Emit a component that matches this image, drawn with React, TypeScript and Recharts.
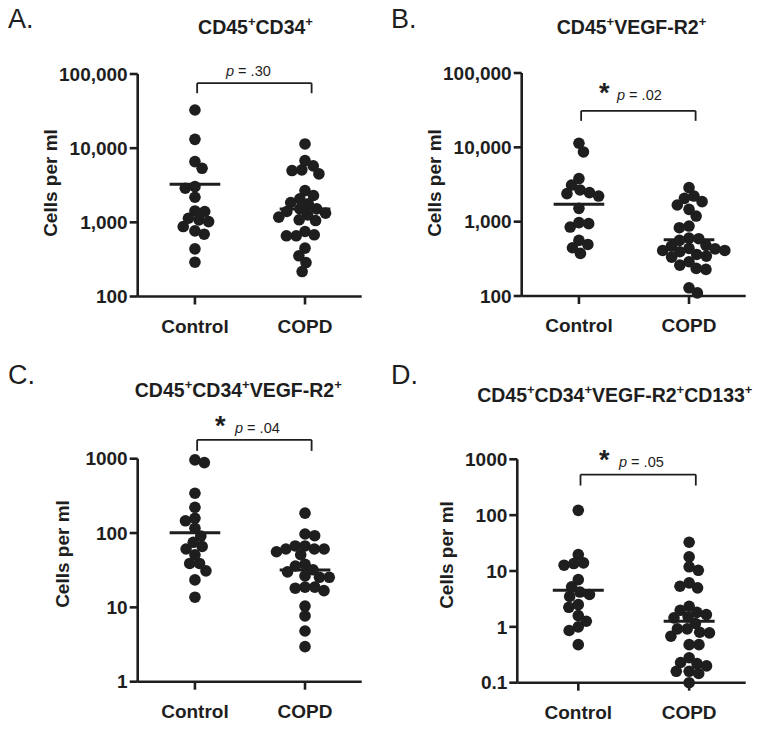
import { ScatterChart, Scatter, XAxis, YAxis, ReferenceLine } from 'recharts';

const FONT = "'Liberation Sans', Arial, Helvetica, sans-serif";
const INK = '#1e1e1e';

const groups = ['Control', 'COPD'];

// A. CD45+CD34+ (cells per ml)
const aControl = [32700, 13150, 6590, 5350, 3030, 2880, 2180, 1425, 1400, 1135, 1080, 1023, 877, 767, 692, 439, 290];
const aCopd = [11400, 6800, 5770, 5100, 4990, 4500, 2680, 2300, 2070, 1850, 1775, 1520, 1520, 1400, 1330, 1262, 1175, 1081, 1057, 752, 679, 658, 658, 449, 354, 287, 217];
const aMedians = [3260, 1507];

// B. CD45+VEGF-R2+
const bControl = [11350, 8670, 3800, 3110, 2670, 2460, 2380, 2210, 1510, 970, 940, 846, 560, 494, 446, 374];
const bCopd = [2870, 2210, 2060, 1860, 1675, 1465, 1190, 873, 830, 600, 590, 560, 480, 469, 437, 430, 410, 410, 394, 362, 344, 333, 289, 260, 235, 228, 129, 110];
const bMedians = [1710, 572];

// C. CD45+CD34+VEGF-R2+
const cControl = [963, 886, 343, 222, 158, 146, 116, 91, 75, 66, 61, 51, 39, 39, 31, 23.4, 13.7];
const cCopd = [185, 97, 92, 67, 67, 61, 61, 61, 56, 51, 38, 36, 32, 30, 26.5, 25.4, 25.4, 18.7, 18.7, 18.1, 16.8, 10.4, 7.66, 4.81, 2.96];
const cMedians = [101, 31.9];

// D. CD45+CD34+VEGF-R2+CD133+
const dControl = [122, 19.7, 14.0, 13.6, 12.7, 7.0, 5.2, 4.2, 3.8, 3.5, 2.5, 2.24, 1.59, 1.26, 1.0, 0.86, 0.48];
const dCopd = [32.7, 17.9, 11.9, 10.3, 6.14, 5.33, 4.99, 2.34, 1.98, 1.82, 1.66, 1.51, 1.45, 1.15, 0.92, 0.92, 0.8, 0.78, 0.68, 0.48, 0.48, 0.28, 0.23, 0.22, 0.2, 0.16, 0.16, 0.146, 0.1];
const dMedians = [4.5, 1.26];

const ticksAB = [100, 1000, 10000, 100000];
const ticksC = [1, 10, 100, 1000];
const ticksD = [0.1, 1, 10, 100, 1000];

const titles = [
  ['CD45', 'CD34'],
  ['CD45', 'VEGF-R2'],
  ['CD45', 'CD34', 'VEGF-R2'],
  ['CD45', 'CD34', 'VEGF-R2', 'CD133'],
];
const pValues = ['.30', '.02', '.04', '.05'];
const starred = [false, true, true, true];

const DOT_R = 5.8;

// simple beeswarm: spread close values sideways (dots may overlap a little, like Prism)
function swarm(values: number[], center: number, pxPerDecade: number, pxPerUnit: number) {
  const D = 9.8;
  const order = values.map((v, i) => ({ v, i })).sort((a, b) => b.v - a.v);
  const placed: { py: number; ox: number }[] = [];
  const out = values.map((v) => ({ x: center, y: v }));
  let flip = 1;
  for (const { v, i } of order) {
    const py = -Math.log10(v) * pxPerDecade;
    const cands = [0];
    for (const p of placed) {
      const dy = Math.abs(p.py - py);
      if (dy < D) {
        const h = Math.sqrt(D * D - dy * dy);
        cands.push(p.ox + h * flip, p.ox - h * flip);
      }
    }
    cands.sort((a, b) => Math.abs(a) - Math.abs(b));
    let best = 0;
    for (const c of cands) {
      if (placed.every((p) => (p.ox - c) ** 2 + (p.py - py) ** 2 >= D * D - 0.01)) {
        best = c;
        break;
      }
    }
    if (best !== 0) flip = -flip;
    placed.push({ py, ox: best });
    out[i] = { x: center + best / pxPerUnit, y: v };
  }
  return out;
}

interface PanelProps {
  left: number;
  top: number;
  width: number;
  height: number;
  margin: { top: number; right: number; bottom: number; left: number };
  yAxisWidth: number;
  xAxisHeight: number;
  xDomain: [number, number];
  ticks: number[];
  tickFmt: (v: number) => string;
  control: number[];
  copd: number[];
  medians: number[];
  bracket: [number, number];
}

const Dot = (props: any) => <circle cx={props.cx} cy={props.cy} r={DOT_R} fill={INK} />;

const tickStyle = { fill: INK, fontSize: 19, fontWeight: 700, fontFamily: FONT };
const lineStyle = { stroke: INK, strokeWidth: 2.6 };

const Panel = (p: PanelProps) => {
  const plotW = p.width - p.margin.left - p.margin.right - p.yAxisWidth;
  const plotH = p.height - p.margin.top - p.margin.bottom - p.xAxisHeight;
  const decades = Math.log10(p.ticks[p.ticks.length - 1]) - Math.log10(p.ticks[0]);
  const pxPerDecade = plotH / decades;
  const pxPerUnit = plotW / (p.xDomain[1] - p.xDomain[0]);
  const ctrlPts = swarm(p.control, 1, pxPerDecade, pxPerUnit);
  const copdPts = swarm(p.copd, 2, pxPerDecade, pxPerUnit);
  const [bTop, bFoot] = p.bracket;
  const bx1 = 1.02;
  const bx2 = 2.06;

  return (
    <div style={{ position: 'absolute', left: p.left, top: p.top }}>
      <ScatterChart width={p.width} height={p.height} margin={p.margin}>
        <XAxis
          type="number"
          dataKey="x"
          domain={p.xDomain}
          ticks={[1, 2]}
          tickFormatter={(v) => groups[Math.round(v) - 1]}
          height={p.xAxisHeight}
          tickSize={8}
          tickMargin={15}
          axisLine={lineStyle}
          tickLine={lineStyle}
          tick={tickStyle}
        />
        <YAxis
          type="number"
          dataKey="y"
          scale="log"
          domain={[p.ticks[0], p.ticks[p.ticks.length - 1]]}
          ticks={p.ticks}
          tickFormatter={p.tickFmt}
          width={p.yAxisWidth}
          tickSize={8}
          tickMargin={2}
          axisLine={lineStyle}
          tickLine={lineStyle}
          tick={tickStyle}
        />
        <Scatter data={ctrlPts} shape={Dot} isAnimationActive={false} />
        <Scatter data={copdPts} shape={Dot} isAnimationActive={false} />
        {p.medians.map((m, i) => (
          <ReferenceLine
            key={`med-${i}`}
            segment={[{ x: i + 1 - 0.23, y: m }, { x: i + 1 + 0.23, y: m }]}
            stroke={INK}
            strokeWidth={3}
            ifOverflow="visible"
          />
        ))}
        <ReferenceLine segment={[{ x: bx1, y: bTop }, { x: bx2, y: bTop }]} stroke={INK} strokeWidth={1.8} ifOverflow="visible" />
        <ReferenceLine segment={[{ x: bx1, y: bTop }, { x: bx1, y: bFoot }]} stroke={INK} strokeWidth={1.8} ifOverflow="visible" />
        <ReferenceLine segment={[{ x: bx2, y: bTop }, { x: bx2, y: bFoot }]} stroke={INK} strokeWidth={1.8} ifOverflow="visible" />
      </ScatterChart>
    </div>
  );
};

const Title = ({ x, y, parts }: { x: number; y: number; parts: string[] }) => (
  <text x={x} y={y} textAnchor="middle" fontSize={19.5} fontWeight={700} fill={INK} fontFamily={FONT}>
    {parts.map((s, i) => [
      <tspan key={`t${i}`} dy={i === 0 ? 0 : 8}>{s}</tspan>,
      <tspan key={`s${i}`} dy={-8} fontSize={13}>+</tspan>,
    ])}
  </text>
);

const YLabel = ({ x, y }: { x: number; y: number }) => (
  <text x={x} y={y} transform={`rotate(-90 ${x} ${y})`} textAnchor="middle" fontSize={19} fontWeight={700} fill={INK} fontFamily={FONT}>
    Cells per ml
  </text>
);

const Sig = ({ starX, pX, y, i }: { starX: number; pX: number; y: number; i: number }) => (
  <g fontFamily={FONT} fill={INK}>
    {starred[i] && (
      <text x={starX} y={y + 2} fontSize={27} fontWeight={700}>*</text>
    )}
    <text x={pX} y={y} fontSize={14.5}>
      <tspan fontStyle="italic">p</tspan> = {pValues[i]}
    </text>
  </g>
);

const commaFmt = (v: number) => v.toLocaleString('en-US');
const plainFmt = (v: number) => String(v);

export default function App() {
  return (
    <div style={{ position: 'absolute', left: 0, top: 0, width: 768, height: 729, background: '#fff', fontFamily: FONT }}>
      <Panel
        left={0} top={0} width={384} height={365}
        margin={{ top: 74, right: 22.3, bottom: 8.5, left: 0 }}
        yAxisWidth={137.7} xAxisHeight={60} xDomain={[0.48, 2.515]}
        ticks={ticksAB} tickFmt={commaFmt}
        control={aControl} copd={aCopd} medians={aMedians}
        bracket={[75200, 55100]}
      />
      <Panel
        left={384} top={0} width={384} height={365}
        margin={{ top: 73, right: 22.3, bottom: 9, left: 0 }}
        yAxisWidth={137.7} xAxisHeight={60} xDomain={[0.48, 2.515]}
        ticks={ticksAB} tickFmt={commaFmt}
        control={bControl} copd={bCopd} medians={bMedians}
        bracket={[30950, 22700]}
      />
      <Panel
        left={0} top={370} width={384} height={359}
        margin={{ top: 88.7, right: 22.3, bottom: 2.3, left: 0 }}
        yAxisWidth={137.7} xAxisHeight={45} xDomain={[0.48, 2.515]}
        ticks={ticksC} tickFmt={plainFmt}
        control={cControl} copd={cCopd} medians={cMedians}
        bracket={[1791, 1274]}
      />
      <Panel
        left={384} top={370} width={384} height={359}
        margin={{ top: 89.3, right: 22.3, bottom: 2.3, left: 0 }}
        yAxisWidth={133.3} xAxisHeight={44} xDomain={[0.45, 2.51]}
        ticks={ticksD} tickFmt={plainFmt}
        control={dControl} copd={dCopd} medians={dMedians}
        bracket={[533, 339]}
      />
      <svg width={768} height={729} style={{ position: 'absolute', left: 0, top: 0, pointerEvents: 'none' }}>
        <g fontFamily={FONT} fontSize={27} fill={INK}>
          <text x={8} y={28}>A.</text>
          <text x={391} y={28}>B.</text>
          <text x={8} y={384}>C.</text>
          <text x={391} y={384}>D.</text>
        </g>
        <Title x={255.5} y={34} parts={titles[0]} />
        <Title x={631.5} y={34} parts={titles[1]} />
        <Title x={238.3} y={396.7} parts={titles[2]} />
        <Title x={614.8} y={401.7} parts={titles[3]} />
        <YLabel x={56.5} y={183} />
        <YLabel x={440.5} y={183} />
        <YLabel x={68.6} y={554} />
        <YLabel x={452.6} y={555} />
        <Sig i={0} starX={0} pX={226} y={76} />
        <Sig i={1} starX={599} pX={617} y={99.5} />
        <Sig i={2} starX={215} pX={235} y={433} />
        <Sig i={3} starX={599} pX={619} y={467} />
      </svg>
    </div>
  );
}
